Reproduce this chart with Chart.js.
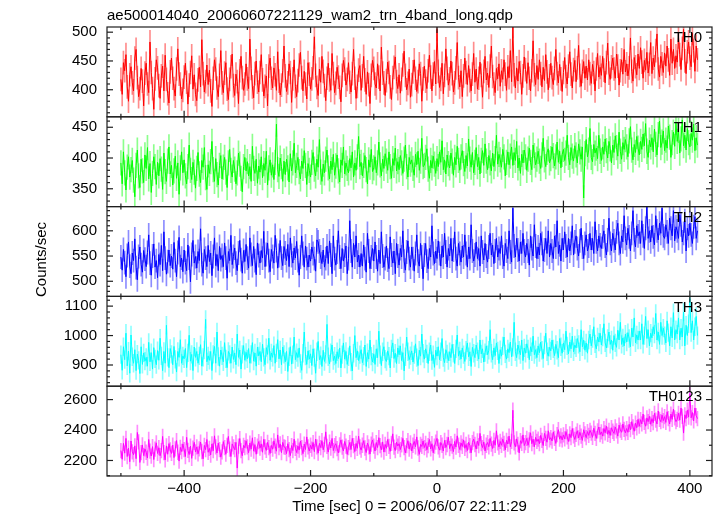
<!DOCTYPE html>
<html>
<head>
<meta charset="utf-8">
<script src="https://cdn.jsdelivr.net/npm/chart.js@4/dist/chart.umd.min.js"></script>
<style>
  html, body { margin: 0; padding: 0; background: #fff; }
  canvas { display: block; }
</style>
</head>
<body>
<canvas id="c" width="717" height="516"></canvas>
<script>
// ---- data (binned light curves, counts/sec) ----
const TITLE = 'ae500014040_20060607221129_wam2_trn_4band_long.qdp';
const X_LABEL = 'Time [sec] 0 = 2006/06/07 22:11:29';
const Y_LABEL = 'Counts/sec';
const BAND_NAMES = ['TH0', 'TH1', 'TH2', 'TH3', 'TH0123'];
const TIME_START = -500;   // first bin time [sec]
const BIN_WIDTH = 2;       // bin width [sec]
const X_TICKS = [-400, -200, 0, 200, 400];
const Y_TICKS = [[400, 450, 500], [350, 400, 450], [500, 550, 600], [900, 1000, 1100], [2200, 2400, 2600]];
const ERRORS = [20, 20, 23, 30, 48];   // typical error-bar half length per band (counts/sec)

const th0 = [
  418,392,447,433,461,405,380,426,440,412,
  398,455,470,421,388,402,437,415,372,429,
  446,410,395,483,430,402,366,419,452,438,
  407,385,424,441,398,460,418,393,377,431,
  455,420,402,389,436,471,427,410,384,399,
  422,446,413,375,408,430,459,401,426,392,
  381,417,439,405,487,428,396,414,443,409,
  434,398,371,420,452,436,403,388,425,468,
  412,395,429,447,401,383,418,440,462,407,
  390,427,414,376,433,458,421,399,410,445,
  419,402,488,437,405,386,428,450,413,396,
  430,461,417,389,406,424,372,441,455,420,
  403,438,426,399,466,415,391,408,433,476,
  424,397,412,445,430,378,419,452,406,388,
  416,443,465,421,398,432,410,384,447,427,
  401,419,438,492,425,404,390,436,413,458,
  432,407,381,420,446,417,399,463,428,395,
  411,439,422,404,379,425,451,436,408,418,
  447,413,396,428,470,420,385,406,434,442,
  399,424,458,417,392,431,409,376,425,451,
  437,410,403,445,422,398,474,429,412,390,
  416,448,430,405,383,421,439,457,414,402,
  426,394,418,443,467,425,400,411,436,387,
  409,431,452,420,397,414,445,428,380,419,
  441,415,402,433,460,422,398,427,449,410,
  505,432,404,418,446,393,425,471,437,408,
  419,450,428,396,412,438,482,421,405,433,
  388,424,455,430,409,442,416,398,427,463,
  413,436,401,420,448,425,387,432,458,417,
  429,404,441,476,423,410,395,437,419,445,
  406,433,418,452,427,399,440,421,468,414,
  510,426,403,438,415,449,430,392,424,457,
  435,411,447,420,398,433,485,426,409,442,
  418,452,428,405,439,416,461,431,400,424,
  446,421,409,437,470,428,412,444,419,397,
  430,456,423,410,441,466,427,403,435,451,
  414,438,477,425,406,432,449,420,441,417,
  452,428,411,444,430,398,436,463,422,439,
  425,458,434,412,447,481,429,418,440,455,
  436,420,462,441,408,433,452,427,470,431,
  445,424,438,490,432,415,456,440,426,462,
  437,473,448,420,451,434,465,429,444,482,
  428,455,440,468,497,436,422,458,445,430,
  464,441,476,452,425,488,446,470,437,459,
  448,492,461,435,472,505,450,428,466,483,
  455,440,498,468,432,476,452
];
const th1 = [
  392,358,410,376,348,385,402,369,381,396,
  364,337,388,413,371,352,398,379,360,405,
  383,417,366,391,344,375,402,386,357,393,
  371,399,382,349,408,378,362,395,418,374,
  388,356,379,403,367,392,341,384,410,376,
  397,371,358,386,421,380,365,393,377,351,
  383,409,374,360,396,385,417,368,349,389,
  375,394,427,381,362,399,373,356,388,404,
  366,385,401,377,352,392,414,380,369,396,
  382,358,376,408,390,367,345,386,401,379,
  394,371,386,362,419,383,375,398,359,387,
  377,402,368,391,380,411,356,384,397,372,
  389,365,393,455,381,370,400,386,362,395,
  373,398,384,361,407,379,392,424,376,388,
  401,378,366,395,383,412,388,357,391,380,
  369,393,409,382,371,398,385,430,377,362,
  390,376,398,413,384,366,395,381,406,372,
  387,405,379,361,397,388,418,374,392,383,
  376,399,384,410,369,392,380,402,435,386,
  393,371,388,404,381,358,397,385,414,378,
  384,402,376,392,426,389,371,398,383,407,
  395,380,410,386,367,399,388,416,379,394,
  381,404,392,375,398,421,386,369,401,390,
  397,383,372,406,389,411,380,395,432,386,
  388,401,415,382,367,396,384,403,390,375,
  399,386,410,393,428,381,397,374,405,391,
  384,408,395,372,401,389,419,396,380,402,
  412,391,378,404,387,431,398,385,409,376,
  393,417,386,401,374,396,412,388,423,395,
  381,404,392,379,408,386,399,437,390,406,
  397,385,414,402,371,393,410,389,403,418,
  388,409,396,427,384,400,375,406,392,413,
  402,380,398,416,393,381,421,404,389,398,
  411,395,383,405,432,397,386,409,415,392,
  399,418,404,387,402,426,393,411,384,406,
  414,396,408,437,401,389,417,403,395,420,
  405,392,423,410,398,418,335,407,430,402,
  413,448,401,394,422,408,416,399,437,411,
  396,418,406,431,412,400,427,415,392,421,
  409,436,417,403,442,411,398,425,414,430,
  418,402,428,451,413,397,422,409,435,416,
  405,427,414,439,420,456,411,401,429,418,
  433,410,447,422,405,438,460,417,426,444,
  412,429,416,452,434,401,425,442,419,458,
  427,445,408,431,462,420,437,413,448,425,
  418,440,429,455,412,433,421
];
const th2 = [
  548,522,563,537,509,551,578,530,515,556,
  541,584,527,503,549,568,533,518,561,544,
  529,557,592,536,512,550,574,528,541,507,
  553,533,571,521,598,546,514,539,562,531,
  550,524,577,541,509,557,587,529,546,519,
  562,537,521,572,546,499,553,581,536,549,
  526,559,541,604,533,516,563,546,529,571,
  539,556,511,549,586,531,553,521,569,543,
  551,529,576,546,506,559,541,591,533,549,
  566,536,521,556,581,543,516,561,539,573,
  546,526,586,553,531,569,541,513,576,551,
  536,561,546,599,529,553,576,541,519,563,
  549,536,591,561,526,551,581,546,531,569,
  556,541,573,529,586,551,536,566,546,579,
  541,512,548,590,555,528,570,545,528,552,
  540,568,555,545,520,582,578,560,548,535,
  562,528,545,570,535,580,552,515,590,545,
  532,558,600,548,525,565,540,552,570,515,
  545,620,560,528,575,548,590,538,552,528,
  555,530,572,545,518,595,560,525,548,565,
  540,578,548,520,562,535,598,550,528,545,
  570,542,525,588,552,536,560,515,575,550,
  532,565,548,600,540,522,558,580,545,528,
  568,545,520,555,592,540,530,575,548,505,
  552,575,540,525,565,548,610,555,535,560,
  545,580,555,530,570,548,595,558,528,565,
  550,585,540,562,598,545,530,575,555,538,
  570,548,592,555,528,568,545,612,560,540,
  552,578,545,565,530,590,558,542,575,550,
  538,568,595,552,572,535,560,585,548,565,
  555,590,548,530,575,560,545,600,558,538,
  645,570,548,585,562,540,578,555,595,560,
  548,575,560,532,590,565,550,612,570,545,
  568,552,595,575,540,562,585,555,600,548,
  575,560,545,590,568,620,555,572,540,585,
  562,598,570,548,585,560,575,610,552,578,
  590,565,550,580,605,568,545,575,592,560,
  570,595,562,585,555,618,578,560,590,572,
  565,588,600,570,552,582,625,575,560,595,
  580,562,598,615,575,555,590,578,630,585,
  572,605,588,560,595,640,582,568,610,590,
  598,575,620,590,565,605,648,585,600,578,
  610,588,572,630,600,582,615,595,645,590,
  585,612,598,575,625,605,590,640,580,608,
  600,585,632,612,578,595,620,560,605,590,
  615,592,575,608,628,585,600
];
const th3 = [
  935,882,962,918,1008,897,947,872,1002,928,
  906,952,881,937,916,871,962,902,941,913,
  926,896,977,911,942,886,959,921,901,949,
  916,991,931,881,946,906,1035,926,891,956,
  936,901,963,919,876,946,926,986,906,931,
  921,956,891,941,1001,913,936,881,961,926,
  946,906,931,969,896,926,951,1055,911,931,
  916,946,881,936,963,906,1012,929,896,951,
  931,911,976,921,891,946,936,906,961,919,
  941,901,1005,926,951,886,936,966,916,943,
  921,956,906,936,976,913,941,896,961,931,
  946,911,971,926,901,959,936,991,916,941,
  926,966,906,941,986,921,951,901,961,936,
  911,946,878,928,962,903,935,995,918,942,
  925,958,905,882,940,1012,930,902,948,920,
  938,898,955,925,872,945,980,918,932,895,
  950,912,936,1038,928,904,942,968,915,930,
  905,945,922,958,890,935,975,920,946,902,
  928,965,910,880,940,1000,925,948,915,935,
  952,908,930,968,895,942,920,985,930,910,
  938,902,955,925,1015,935,898,945,962,920,
  912,948,930,890,955,975,922,940,905,958,
  935,965,915,942,880,928,995,945,918,932,
  948,910,935,972,925,898,950,930,1005,940,
  920,955,938,905,945,968,915,935,892,950,
  930,962,918,945,990,925,908,952,938,915,
  945,925,970,940,905,955,1002,930,948,920,
  958,935,912,950,975,928,945,895,960,940,
  925,968,945,920,985,938,955,910,942,965,
  935,950,1020,940,918,958,932,975,948,905,
  952,930,965,995,938,920,955,942,978,928,
  960,1045,945,925,968,950,935,985,915,958,
  940,972,955,918,962,945,998,935,952,925,
  965,942,978,950,922,968,1008,945,930,960,
  948,985,955,932,970,950,925,990,962,940,
  975,952,1015,965,938,978,955,998,945,968,
  958,990,970,945,1020,962,985,950,975,940,
  985,1005,965,990,1030,972,955,995,978,1008,
  968,995,1040,975,958,990,1012,970,985,950,
  1000,975,960,1018,985,1045,970,992,965,1005,
  978,1010,990,962,1025,995,1060,975,1002,985,
  1015,985,1040,970,1000,1065,990,1020,965,1008,
  992,1030,1005,1075,985,1012,970,1045,1000,1025,
  1000,975,1050,1010,965,1030,992,1078,985,1020,
  1005,1060,985,1025,995,1080,965,1035,1000,1040,
  1125,1010,1050,985,1030,1065,1000
];
const th0123 = [
  2265,2208,2312,2248,2345,2226,2281,2192,2328,2257,
  2238,2296,2212,2384,2322,2187,2251,2302,2232,2276,
  2254,2216,2338,2261,2229,2291,2206,2274,2316,2246,
  2284,2231,2264,2358,2251,2204,2296,2241,2311,2269,
  2246,2301,2219,2276,2331,2254,2196,2286,2259,2309,
  2271,2226,2352,2266,2239,2294,2214,2281,2319,2256,
  2289,2244,2276,2321,2259,2211,2299,2271,2338,2254,
  2279,2236,2309,2264,2362,2289,2249,2314,2271,2222,
  2256,2324,2284,2241,2299,2358,2274,2226,2309,2289,
  2271,2319,2150,2294,2344,2264,2231,2299,2284,2329,
  2289,2251,2314,2274,2349,2261,2304,2241,2294,2324,
  2281,2309,2254,2339,2289,2266,2319,2284,2246,2299,
  2274,2329,2294,2261,2368,2284,2309,2251,2319,2289,
  2286,2245,2310,2272,2232,2298,2265,2340,2280,2252,
  2295,2268,2328,2285,2245,2308,2272,2355,2290,2262,
  2300,2275,2318,2258,2340,2290,2248,2312,2285,2330,
  2270,2305,2388,2292,2255,2320,2282,2345,2265,2298,
  2310,2278,2250,2302,2335,2288,2262,2325,2295,2240,
  2285,2318,2272,2345,2298,2258,2312,2280,2360,2290,
  2268,2300,2330,2282,2252,2315,2290,2242,2308,2335,
  2295,2262,2318,2285,2350,2298,2270,2322,2255,2305,
  2280,2338,2292,2260,2312,2375,2288,2265,2320,2295,
  2310,2272,2302,2345,2285,2250,2298,2330,2275,2315,
  2262,2300,2325,2290,2355,2282,2240,2305,2292,2328,
  2285,2312,2270,2298,2338,2276,2310,2250,2295,2320,
  2345,2290,2268,2318,2300,2262,2332,2285,2305,2352,
  2278,2310,2295,2258,2325,2288,2362,2300,2272,2315,
  2292,2335,2280,2305,2265,2320,2298,2250,2318,2340,
  2305,2275,2328,2298,2378,2310,2285,2322,2262,2300,
  2318,2290,2345,2308,2278,2332,2300,2395,2315,2288,
  2325,2300,2340,2312,2270,2332,2308,2360,2290,2325,
  2530,2315,2290,2342,2305,2250,2330,2312,2368,2298,
  2318,2345,2300,2335,2382,2310,2340,2290,2352,2325,
  2340,2310,2365,2332,2298,2378,2345,2320,2395,2335,
  2350,2328,2388,2345,2312,2370,2402,2340,2362,2335,
  2368,2342,2390,2355,2325,2375,2350,2410,2362,2338,
  2372,2395,2348,2385,2360,2332,2402,2375,2350,2390,
  2365,2398,2380,2352,2412,2378,2345,2395,2420,2370,
  2388,2360,2410,2382,2425,2372,2398,2365,2415,2392,
  2378,2420,2395,2360,2432,2400,2385,2440,2405,2382,
  2410,2385,2438,2402,2455,2420,2392,2445,2415,2470,
  2425,2468,2440,2505,2450,2425,2480,2455,2490,2438,
  2475,2448,2510,2465,2440,2525,2470,2455,2498,2462,
  2488,2450,2520,2475,2440,2505,2470,2538,2480,2455,
  2470,2510,2465,2545,2490,2380,2500,2475,2530,2485,
  2640,2480,2515,2460,2545,2495,2475
];
const SERIES = [th0, th1, th2, th3, th0123];
const Y_RANGES = [[353, 509], [321, 467], [470, 648], [828, 1133], [2098, 2688]];
const Y_MAJOR = [50, 50, 50, 100, 200];
const Y_MINOR = [10, 10, 10, 20, 100];
const X_RANGE = [-522, 435];
const COLORS = ['#ff0000', '#00ff00', '#0000ff', '#00ffff', '#ff00ff'];
const ERR_COLORS = ['rgba(255,0,0,0.45)', 'rgba(0,255,0,0.45)', 'rgba(0,0,255,0.45)', 'rgba(0,255,255,0.45)', 'rgba(255,0,255,0.45)'];

// ---- build chart ----
const FONT = "'Liberation Sans', Arial, Helvetica, sans-serif";
const fmt = v => (v < 0 ? '\u2212' + Math.abs(v) : String(v));

const datasets = [];
SERIES.forEach((vals, i) => {
  const pts = vals.map((v, k) => ({ x: TIME_START + k * BIN_WIDTH, y: v }));
  const bars = vals.map((v, k) => ({ x: TIME_START + k * BIN_WIDTH, y: [v - ERRORS[i], v + ERRORS[i]] }));
  datasets.push({ type: 'bar', data: bars, yAxisID: 'y' + i, backgroundColor: ERR_COLORS[i], borderWidth: 0,
                  barThickness: 1, grouped: false, order: 1, panel: i });
  datasets.push({ type: 'line', data: pts, yAxisID: 'y' + i, borderColor: COLORS[i], borderWidth: 1,
                  pointRadius: 0, order: 0, panel: i });
});

const scales = {
  x: {
    type: 'linear', position: 'bottom', min: X_RANGE[0], max: X_RANGE[1], offset: false,
    grid: { display: false, drawTicks: false, offset: false }, border: { display: false },
    afterBuildTicks: s => { s.ticks = X_TICKS.map(v => ({ value: v })); },
    ticks: { font: { family: FONT, size: 15 }, color: '#000', padding: 4, callback: fmt, maxRotation: 0, autoSkip: false },
    title: { display: true, text: X_LABEL, font: { family: FONT, size: 15 }, color: '#000', padding: { top: 0, bottom: 0 } },
    afterFit: s => { s.height = 40; }
  }
};
// later-defined stacked axes are placed on top, so define bottom panel first
for (let i = SERIES.length - 1; i >= 0; i--) {
  const tk = Y_TICKS[i];
  scales['y' + i] = {
    type: 'linear', position: 'left', stack: 'panels', stackWeight: 1,
    min: Y_RANGES[i][0], max: Y_RANGES[i][1],
    grid: { display: false, drawTicks: false }, border: { display: false },
    afterBuildTicks: s => { s.ticks = tk.map(v => ({ value: v })); },
    ticks: { font: { family: FONT, size: 15 }, color: '#000', padding: 10, autoSkip: false, callback: v => String(v) },
    afterFit: s => { s.width = 107; }
  };
}

const decor = {
  id: 'decor',
  beforeDatasetDraw(chart, args) {
    const ds = chart.data.datasets[args.index];
    const ys = chart.scales['y' + ds.panel], xs = chart.scales.x;
    const ctx = chart.ctx;
    ctx.save();
    ctx.beginPath();
    ctx.rect(xs.left, ys.top, xs.right - xs.left, ys.bottom - ys.top);
    ctx.clip();
  },
  afterDatasetDraw(chart) { chart.ctx.restore(); },
  afterDraw(chart) {
    const ctx = chart.ctx, xs = chart.scales.x;
    const seg = (x1, y1, x2, y2) => { ctx.beginPath(); ctx.moveTo(x1, y1); ctx.lineTo(x2, y2); ctx.stroke(); };
    ctx.save();
    ctx.strokeStyle = '#1e1e1e';
    ctx.lineWidth = 1.2;
    ctx.fillStyle = '#000';
    ctx.font = '15px ' + FONT;
    let top = Infinity, bottom = -Infinity;
    SERIES.forEach((_, i) => {
      const ys = chart.scales['y' + i];
      top = Math.min(top, ys.top); bottom = Math.max(bottom, ys.bottom);
      ctx.strokeRect(xs.left, ys.top, xs.right - xs.left, ys.bottom - ys.top);
      for (let v = Math.ceil(xs.min / 100) * 100; v <= xs.max; v += 100) {
        const px = xs.getPixelForValue(v);
        const len = (v % 200 === 0) ? 6 : 3;
        seg(px, ys.top, px, ys.top + len);
        seg(px, ys.bottom, px, ys.bottom - len);
      }
      const ms = Y_MINOR[i], mj = Y_MAJOR[i];
      for (let v = Math.ceil(ys.min / ms) * ms; v <= ys.max; v += ms) {
        const py = ys.getPixelForValue(v);
        const len = (v % mj === 0) ? 6 : 3;
        seg(xs.left, py, xs.left + len, py);
        seg(xs.right, py, xs.right - len, py);
      }
      ctx.textAlign = 'right';
      ctx.textBaseline = 'middle';
      ctx.fillText(BAND_NAMES[i], xs.right - 10, ys.top + 11);
    });
    // title
    ctx.textAlign = 'left';
    ctx.textBaseline = 'middle';
    ctx.fillText(TITLE, xs.left, top - 11);
    // y label
    ctx.save();
    ctx.translate(42, (top + bottom) / 2 + 8);
    ctx.rotate(-Math.PI / 2);
    ctx.textAlign = 'center';
    ctx.textBaseline = 'middle';
    ctx.fillText(Y_LABEL, 0, 0);
    ctx.restore();
    ctx.restore();
  }
};

new Chart(document.getElementById('c'), {
  type: 'line',
  data: { datasets },
  options: {
    responsive: false, animation: false,
    layout: { padding: { top: 27, right: 5, left: 0, bottom: 0 } },
    plugins: { legend: { display: false }, tooltip: { enabled: false }, title: { display: false } },
    elements: { line: { tension: 0 }, point: { radius: 0 } },
    scales
  },
  plugins: [decor]
});
</script>
</body>
</html>
